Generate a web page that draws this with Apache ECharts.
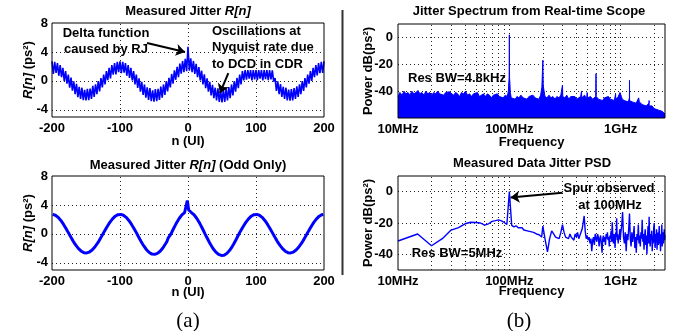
<!DOCTYPE html>
<html>
<head>
<meta charset="utf-8">
<script src="https://cdn.jsdelivr.net/npm/echarts@6/dist/echarts.min.js"></script>
<style>
  html, body { margin: 0; padding: 0; background: #fff; }
  #chart { width: 676px; height: 331px; }
</style>
</head>
<body>
<div id="chart"></div>
<script>
const FONT = '"Liberation Sans", Arial, sans-serif';
const BLUE = '#0000ff';

const range = (a, b, step) => {
  const out = [];
  for (let v = a; v <= b; v += step) out.push(v);
  return out;
};

// (a) top: R[n] every 2 UI, alternating between the upper and lower edge of the band
const hiN = range(-200, 200, 4);
const hiR = [
  2.70, 2.64, 2.46, 2.17, 1.80, 1.35, 0.87, 0.45, -0.08, -0.40, -0.83, -0.95, -1.25, -1.10, -1.06, -0.70, -0.49, -0.02, 0.39, 0.87, 1.35, 1.80, 2.17, 2.46, 2.64,
  2.70, 2.64, 2.46, 2.17, 1.80, 1.35, 0.87, 0.35, -0.15, -0.50, -0.90, -1.00, -1.30, -1.15, -1.10, -0.80, -0.50, -0.05, 0.40, 0.95, 1.45, 1.95, 2.40, 2.75, 3.05,
  4.70, 3.10, 2.75, 2.35, 1.90, 1.40, 0.90, 0.35, -0.15, -0.55, -0.95, -1.05, -1.35, -1.20, -1.10, -0.85, -0.50, -0.05, 0.40, 0.85, 1.35, 1.50, 1.50, 1.50, 1.50,
  1.50, 1.50, 1.50, 1.50, 1.50, 1.50, 1.45, 0.39, -0.08, -0.45, -0.83, -0.95, -1.20, -1.15, -1.00, -0.75, -0.49, -0.05, 0.39, 0.87, 1.35, 1.80, 2.17, 2.46, 2.64,
  2.70
];
const loN = range(-198, 198, 4);
const loR = [
  0.95, 1.10, 0.70, 0.50, -0.05, -0.40, -0.95, -1.35, -1.85, -2.25, -2.50, -2.66, -2.72, -2.66, -2.50, -2.22, -1.85, -1.45, -0.90, -0.50, 0.10, 0.35, 0.85, 0.90, 1.20,
  1.05, 1.15, 0.70, 0.40, 0.05, -0.48, -0.98, -1.48, -1.95, -2.34, -2.64, -2.82, -2.88, -2.82, -2.64, -2.34, -1.95, -1.45, -0.90, -0.40, 0.15, 0.50, 1.00, 1.20, 1.35,
  1.40, 1.20, 0.95, 0.50, 0.05, -0.50, -1.00, -1.50, -2.00, -2.40, -2.72, -2.92, -2.98, -2.92, -2.72, -2.40, -2.00, -1.50, -1.00, -0.50, 0.05, 0.15, 0.30, 0.05, 0.20,
  0.10, 0.30, 0.05, 0.25, 0.10, 0.20, -0.10, -1.40, -1.85, -2.22, -2.51, -2.69, -2.75, -2.69, -2.51, -2.22, -1.85, -1.40, -0.92, -0.40, 0.00, 0.50, 0.75, 1.05, 1.10
];

// (a) bottom: odd samples only
const oddN = range(-199, 199, 2);
const oddR = [
  2.69, 2.65, 2.57, 2.44, 2.28, 2.08, 1.85, 1.59, 1.30, 0.99, 0.67, 0.34, 0.00, -0.33, -0.66, -0.98, -1.28, -1.56, -1.82, -2.04, -2.24, -2.40, -2.52, -2.60, -2.64,
  -2.64, -2.60, -2.52, -2.40, -2.24, -2.04, -1.82, -1.56, -1.28, -0.98, -0.66, -0.33, 0.00, 0.34, 0.67, 0.99, 1.30, 1.59, 1.85, 2.08, 2.28, 2.44, 2.57, 2.65, 2.69,
  2.69, 2.65, 2.57, 2.44, 2.28, 2.08, 1.85, 1.59, 1.30, 0.99, 0.67, 0.34, 0.00, -0.36, -0.71, -1.05, -1.37, -1.68, -1.95, -2.20, -2.41, -2.58, -2.71, -2.80, -2.84,
  -2.84, -2.80, -2.71, -2.58, -2.41, -2.20, -1.95, -1.68, -1.37, -1.05, -0.55, -0.30, 0.00, 0.39, 0.77, 1.14, 1.49, 1.82, 2.12, 2.39, 2.62, 2.81, 2.95, 3.04, 4.60,
  3.30, 3.04, 2.95, 2.81, 2.62, 2.39, 2.12, 1.82, 1.49, 1.14, 0.77, 0.39, 0.00, -0.37, -0.60, -1.10, -1.45, -1.76, -2.06, -2.31, -2.53, -2.72, -2.85, -2.95, -2.99,
  -2.99, -2.95, -2.85, -2.72, -2.53, -2.31, -2.06, -1.76, -1.45, -1.10, -0.75, -0.37, 0.00, 0.34, 0.67, 0.99, 1.30, 1.59, 1.85, 2.08, 2.28, 2.44, 2.57, 2.65, 2.69,
  2.69, 2.65, 2.57, 2.44, 2.28, 2.08, 1.85, 1.59, 1.30, 0.99, 0.67, 0.34, 0.00, -0.33, -0.66, -0.98, -1.28, -1.56, -1.82, -2.04, -2.24, -2.40, -2.52, -2.60, -2.64,
  -2.64, -2.60, -2.52, -2.40, -2.24, -2.04, -1.82, -1.56, -1.28, -0.98, -0.66, -0.33, 0.00, 0.34, 0.67, 0.99, 1.30, 1.59, 1.85, 2.08, 2.28, 2.44, 2.57, 2.65, 2.69
];

// (b) top: real-time scope spectrum, frequency in MHz
const specFreq = [
  10, 10.4, 10.9, 11.3, 11.8, 12.3, 12.8, 13.3, 13.9, 14.5,
  15.1, 15.7, 16.4, 17.1, 17.8, 18.5, 19.3, 20.1, 20.9, 21.8,
  22.7, 23.7, 24.7, 25.7, 26.8, 27.9, 29.1, 30.3, 31.6, 32.9,
  34.3, 35.7, 37.2, 38.8, 40.4, 42.1, 43.9, 45.7, 47.6, 49.6,
  51.7, 53.9, 56.1, 58.5, 60.9, 63.5, 66.2, 68.9, 71.8, 74.8,
  78, 81.3, 84.7, 88.2, 91.9, 95.8, 98, 99, 99.6, 100,
  100.4, 101, 102, 104, 108, 113, 117, 122, 127, 133,
  138, 144, 150, 156, 163, 170, 177, 184, 191, 196,
  198.5, 200, 201.5, 204, 209, 218, 227, 236, 246, 257,
  267, 279, 290, 298, 300, 302, 315, 328, 342, 356,
  371, 387, 403, 420, 437, 443, 445, 447, 455, 474,
  494, 500, 506, 515, 536, 559, 582, 597, 600, 603,
  632, 658, 686, 715, 745, 776, 808, 842, 877, 897,
  900, 903, 914, 952, 985, 1000, 1015, 1033, 1077, 1122,
  1170, 1198, 1200, 1202, 1219, 1270, 1323, 1378, 1430, 1450,
  1470, 1496, 1559, 1624, 1692, 1763, 1798, 1800, 1802, 1837,
  1914, 1994, 2078, 2165, 2255, 2350, 2448, 2500
];
const specDb = [
  -44, -41, -43, -40, -42, -41, -43, -40, -42, -41,
  -39.5, -42, -41, -43, -40, -42, -41, -43, -41, -42,
  -40, -42, -41, -43, -41, -42, -40.5, -42, -43, -41,
  -42, -44, -41, -42, -40, -43, -42, -44, -42, -43,
  -41, -44, -43, -42, -44, -42, -43, -45, -43, -44,
  -42, -44, -43, -45, -43, -44, -40, -33, -30, 2,
  -30, -33, -41, -45, -44, -46, -44, -45, -43, -45,
  -44, -46, -44, -45, -43, -45, -44, -46, -43, -37,
  -36, -17, -36, -37, -44, -45, -43, -45, -44, -46,
  -44, -45, -43, -44, -35.5, -44, -45, -43, -46, -44,
  -45, -44, -46, -45, -44, -44, -40, -45, -45, -43,
  -46, -41, -45, -45, -44, -46, -45, -44, -27, -44,
  -46, -45, -47, -45, -46, -44, -46, -45, -47, -46,
  -42, -46, -45, -44, -41, -40, -44, -46, -47, -46,
  -48, -45, -32, -47, -46, -48, -47, -49, -48, -45,
  -48, -49, -50, -49, -51, -50, -49, -47, -51, -52,
  -51, -53, -52, -54, -53, -55, -56, -57
];

// (b) bottom: measured data jitter PSD, 5 MHz resolution
const psdFreq = [...range(10, 200, 5), ...range(210, 1000, 10), ...range(1020, 2500, 20)];
const psdDb = [
  -31.5, -27, -34.5, -30, -24.5, -23, -20.5, -19.5, -19.7, -20,
  -21.4, -20.5, -19, -18.5, -18, -18.6, -19.7, -21, 0, -21.5,
  -22.5, -21.8, -23, -24, -23, -24.5, -23.5, -25, -24, -25.5,
  -24.5, -26, -25, -27, -26, -27.5, -26.5, -29, -22,
  -31, -38.5, -30, -25, -27, -29, -28, -30, -26, -21,
  -26, -29, -28, -30, -27, -29, -28, -31, -27, -29,
  -26, -30, -28, -27, -24, -20, -15.5, -25, -30, -28,
  -31, -29, -33, -30, -38, -31, -29, -34, -27, -30,
  -32, -27, -29, -35, -30, -28, -33, -39, -30, -28,
  -32, -29, -34, -27, -30, -26, -31, -29, -35, -28,
  -30, -25, -32, -19.5, -29, -33, -27, -30, -36, -26,
  -29, -17, -31, -27, -33, -28, -30, -24, -31, -27,
  -22, -13, -29, -33, -26, -38, -27, -31, -24, -14,
  -30, -35, -26, -32, -28, -22, -36, -29, -39, -27,
  -31, -21, -33, -28, -35, -26, -30, -18, -32, -27,
  -37, -29, -24, -34, -28, -40, -30, -22, -33, -16,
  -29, -35, -27, -31, -25, -38, -28, -33, -23, -20,
  -31, -36, -27, -32, -24, -37, -29, -26, -34, -28,
  -22, -33, -30, -38, -27, -31, -21, -35, -29, -26,
  -33, -30, -24, -31, -28
];

const logGridX = [20, 30, 40, 50, 60, 70, 80, 90, 100, 200, 300, 400, 500, 600, 700, 800, 900, 1000, 2000];

// interleave upper and lower samples in n order
const topData = [];
hiN.forEach((n, i) => {
  topData.push([n, hiR[i]]);
  if (i < loN.length) topData.push([loN[i], loR[i]]);
});
const oddData = oddN.map((n, i) => [n, oddR[i]]);
const specData = specFreq.map((f, i) => [f, specDb[i]]);
const psdData = psdFreq.map((f, i) => [f, psdDb[i]]);

const labelStyle = { color: '#000', fontSize: 13, fontWeight: 'bold', fontFamily: FONT };
const nameStyle = {
  color: '#000', fontSize: 13, fontWeight: 'bold', fontFamily: FONT,
  rich: { i: { fontStyle: 'italic', fontWeight: 'bold', fontSize: 13, fontFamily: FONT, color: '#000' } }
};

const freqLabel = v => (v === 10 ? '10MHz' : v === 100 ? '100MHz' : v === 1000 ? '1GHz' : '');
const everyFour = v => (v % 4 === 0 ? String(v) : '');
const dbLabel = v => ([0, -20, -40].includes(v) ? String(v) : '');

const gridLine = { color: '#000', width: 1, type: [1, 3], opacity: 0.85 };

function gridLines(idx, xs, ys) {
  return {
    type: 'line', xAxisIndex: idx, yAxisIndex: idx, data: [], z: 1,
    markLine: {
      silent: true, symbol: 'none', animation: false, z: 1,
      label: { show: false }, lineStyle: gridLine,
      data: [...xs.map(v => ({ xAxis: v })), ...ys.map(v => ({ yAxis: v }))]
    }
  };
}

function arrows(idx, segs) {
  return {
    type: 'line', xAxisIndex: idx, yAxisIndex: idx, data: [], z: 6,
    markLine: {
      silent: true, symbol: ['none', 'arrow'], symbolSize: 9, animation: false, z: 10,
      label: { show: false }, lineStyle: { color: '#000', width: 2, type: 'solid' },
      data: segs.map(s => [{ coord: s[0] }, { coord: s[1] }])
    }
  };
}

function txt(x, y, text, extra) {
  return {
    type: 'text', x: x, y: y, z: 100,
    style: Object.assign({
      text: text, fill: '#000', fontSize: 13, fontWeight: 'bold', fontFamily: FONT,
      align: 'center', verticalAlign: 'middle',
      rich: { i: { fontStyle: 'italic', fontWeight: 'bold', fontSize: 13, fontFamily: FONT, fill: '#000' } }
    }, extra || {})
  };
}

const grids = [
  { left: 52, top: 23, width: 272, height: 94 },
  { left: 52, top: 176, width: 272, height: 94 },
  { left: 398, top: 24, width: 267, height: 94 },
  { left: 398, top: 176, width: 267, height: 94 }
].map(g => Object.assign(g, { show: true, borderColor: '#000', borderWidth: 1, backgroundColor: 'transparent', z: 4 }));

const common = {
  nameLocation: 'middle', nameMoveOverlap: false, axisLine: { show: false }, axisTick: { show: false },
  splitLine: { show: false }, nameTextStyle: nameStyle
};

const chart = echarts.init(document.getElementById('chart'), null, { renderer: 'canvas' });

chart.setOption({
  animation: false,
  backgroundColor: '#fff',
  grid: grids,
  xAxis: [
    Object.assign({}, common, { gridIndex: 0, type: 'value', min: -200, max: 200, interval: 100, name: 'n (UI)', nameGap: 18, axisLabel: Object.assign({ margin: 5 }, labelStyle) }),
    Object.assign({}, common, { gridIndex: 1, type: 'value', min: -200, max: 200, interval: 100, name: 'n (UI)', nameGap: 16, axisLabel: Object.assign({ margin: 5 }, labelStyle) }),
    Object.assign({}, common, { gridIndex: 2, type: 'log', logBase: 10, min: 10, max: 2500, name: 'Frequency', nameGap: 18, axisLabel: Object.assign({ margin: 5, formatter: freqLabel }, labelStyle) }),
    Object.assign({}, common, { gridIndex: 3, type: 'log', logBase: 10, min: 10, max: 2500, name: 'Frequency', nameGap: 15, axisLabel: Object.assign({ margin: 5, formatter: freqLabel }, labelStyle) })
  ],
  yAxis: [
    Object.assign({}, common, { gridIndex: 0, type: 'value', min: -5, max: 8, interval: 1, name: '{i|R[n]} (ps²)', nameGap: 17, axisLabel: Object.assign({ margin: 4, formatter: everyFour }, labelStyle) }),
    Object.assign({}, common, { gridIndex: 1, type: 'value', min: -5, max: 8, interval: 1, name: '{i|R[n]} (ps²)', nameGap: 17, axisLabel: Object.assign({ margin: 4, formatter: everyFour }, labelStyle) }),
    Object.assign({}, common, { gridIndex: 2, type: 'value', min: -60, max: 10, interval: 10, name: 'Power dB(ps²)', nameGap: 23, axisLabel: Object.assign({ margin: 5, formatter: dbLabel }, labelStyle) }),
    Object.assign({}, common, { gridIndex: 3, type: 'value', min: -50, max: 10, interval: 10, name: 'Power dB(ps²)', nameGap: 23, axisLabel: Object.assign({ margin: 5, formatter: dbLabel }, labelStyle) })
  ],
  series: [
    gridLines(0, [-100, 0, 100], [-4, 0, 4]),
    gridLines(1, [-100, 0, 100], [-4, 0, 4]),
    gridLines(2, logGridX, [-40, -20, 0]),
    gridLines(3, logGridX, [-40, -20, 0]),
    {
      name: 'R[n]', type: 'line', xAxisIndex: 0, yAxisIndex: 0, data: topData, z: 3,
      symbol: 'none', lineStyle: { color: BLUE, width: 1.6 }
    },
    {
      name: 'R[n] odd', type: 'line', xAxisIndex: 1, yAxisIndex: 1, data: oddData, z: 3,
      symbol: 'none', lineStyle: { color: BLUE, width: 3 }
    },
    {
      name: 'Scope spectrum', type: 'line', xAxisIndex: 2, yAxisIndex: 2, data: specData, z: 3,
      symbol: 'none', lineStyle: { color: BLUE, width: 1 },
      areaStyle: { color: BLUE, opacity: 1, origin: 'start' }
    },
    {
      name: 'PSD', type: 'line', xAxisIndex: 3, yAxisIndex: 3, data: psdData, z: 3,
      symbol: 'none', lineStyle: { color: BLUE, width: 1.4 }
    },
    arrows(0, [[[-60.3, 5.24], [-4.4, 4.0]], [[59.3, 1.06], [47, -1.7]]]),
    arrows(3, [[[300, -0.64], [102.5, -3.8]]])
  ],
  graphic: [
    { type: 'line', z: 100, shape: { x1: 342.5, y1: 10, x2: 342.5, y2: 275 }, style: { stroke: '#333', lineWidth: 2 } },
    txt(188, 11, 'Measured Jitter {i|R[n]}'),
    txt(188, 165, 'Measured Jitter {i|R[n]} (Odd Only)'),
    txt(529, 11, 'Jitter Spectrum from Real-time Scope'),
    txt(532, 163, 'Measured Data Jitter PSD'),
    txt(106, 33, 'Delta function'),
    txt(106, 49, 'caused by RJ'),
    txt(212, 31, 'Oscillations at', { align: 'left' }),
    txt(212, 47, 'Nyquist rate due', { align: 'left' }),
    txt(212, 64, 'to DCD in CDR', { align: 'left' }),
    txt(408, 78, 'Res BW=4.8kHz', { align: 'left' }),
    txt(609, 188, 'Spur observed'),
    txt(610, 205, 'at 100MHz'),
    txt(457, 253, 'Res BW=5MHz'),
    txt(188, 321, '(a)', { fontSize: 21, fontWeight: 'normal', fontFamily: '"Liberation Serif", "Times New Roman", serif' }),
    txt(519, 321, '(b)', { fontSize: 21, fontWeight: 'normal', fontFamily: '"Liberation Serif", "Times New Roman", serif' })
  ]
});
</script>
</body>
</html>
